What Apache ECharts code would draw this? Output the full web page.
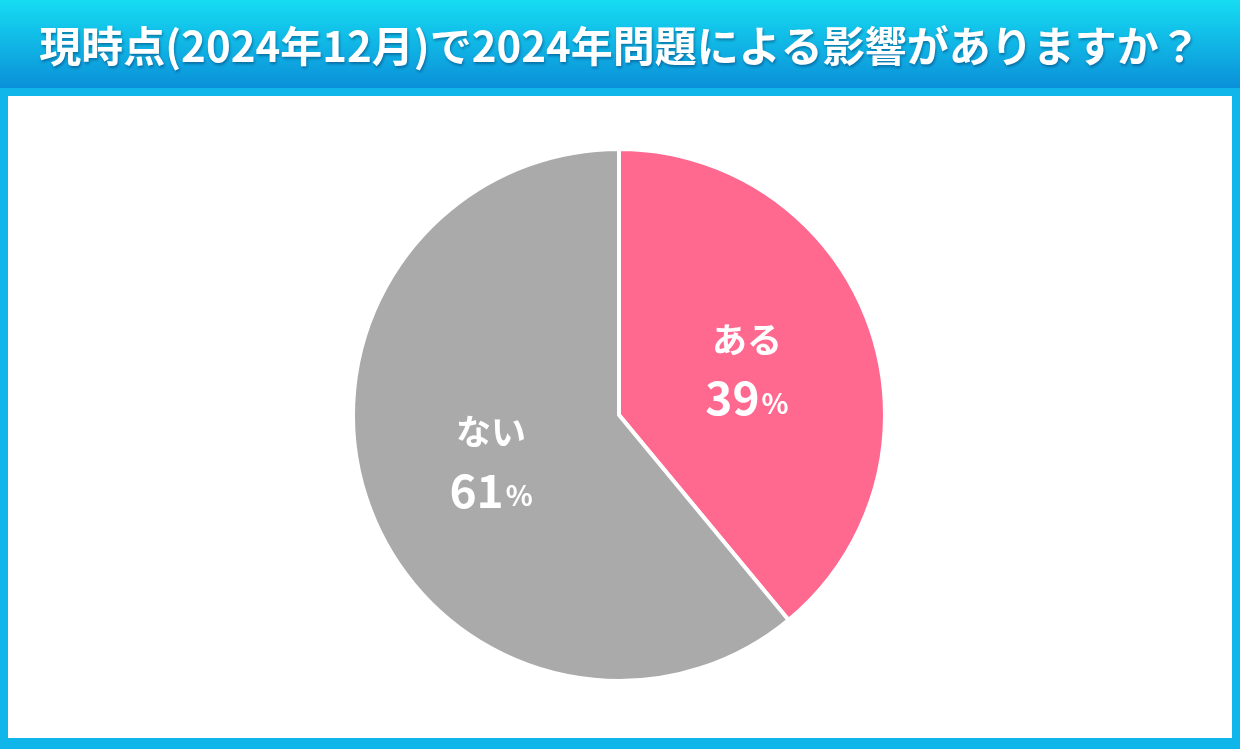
<!DOCTYPE html>
<html><head><meta charset="utf-8">
<script src="https://cdn.jsdelivr.net/npm/echarts@6/dist/echarts.min.js"></script>
<style>html,body{margin:0;padding:0;background:#0fb4ea}#c{width:1240px;height:749px}</style>
</head><body><div id="c"></div>
<script>
const titleText = '現時点(2024年12月)で2024年問題による影響がありますか？';
const categories = ['ある', 'ない'];
const values = [39, 61];
const colors = ['#ff6990', '#aaaaaa'];

const chart = echarts.init(document.getElementById('c'));
const FONT = '"Noto Sans CJK JP", "Noto Sans", sans-serif';
chart.setOption({
  animation: false,
  backgroundColor: '#0fb4ea',
  graphic: [
    { type: 'rect', left: 0, top: 0, z: 0,
      shape: { width: 1240, height: 90 },
      style: { fill: new echarts.graphic.LinearGradient(0, 0, 0, 1, [
        { offset: 0, color: '#16dcf2' }, { offset: 1, color: '#0a8ed8' }]) } },
    { type: 'rect', left: 0, top: 88, z: 0,
      shape: { width: 1240, height: 661 }, style: { fill: '#10b6ea' } },
    { type: 'rect', left: 8, top: 96, z: 1,
      shape: { width: 1224, height: 642 }, style: { fill: '#ffffff' } }
  ],
  title: {
    text: titleText, left: 'center', top: 20,
    textStyle: { color: '#ffffff', fontSize: 42, fontWeight: 'bold', fontFamily: FONT,
      textShadowColor: 'rgba(0,40,90,0.45)', textShadowBlur: 3, textShadowOffsetX: 1, textShadowOffsetY: 2 }
  },
  series: [{
    type: 'pie', center: [619, 415], radius: 266, startAngle: 90, clockwise: true,
    z: 5,
    data: categories.map((c, i) => ({ name: c, value: values[i], itemStyle: { color: colors[i] } })),
    itemStyle: { borderColor: '#ffffff', borderWidth: 4 },
    label: {
      position: 'inner', color: '#ffffff', fontFamily: FONT, lineHeight: 58,
      formatter: p => '{n|' + p.name + '}\n{v|' + p.value + '}{p|%}',
      rich: {
        n: { fontSize: 35, fontWeight: 'bold', color: '#fff', fontFamily: FONT, lineHeight: 58 },
        v: { fontSize: 46, fontWeight: 'bold', color: '#fff', fontFamily: FONT, lineHeight: 58 },
        p: { fontSize: 28, fontWeight: 'bold', color: '#fff', fontFamily: FONT, lineHeight: 58, padding: [10, 0, 0, 2] }
      }
    },
    labelLine: { show: false },
    emphasis: { disabled: true }
  }]
});
</script></body></html>
